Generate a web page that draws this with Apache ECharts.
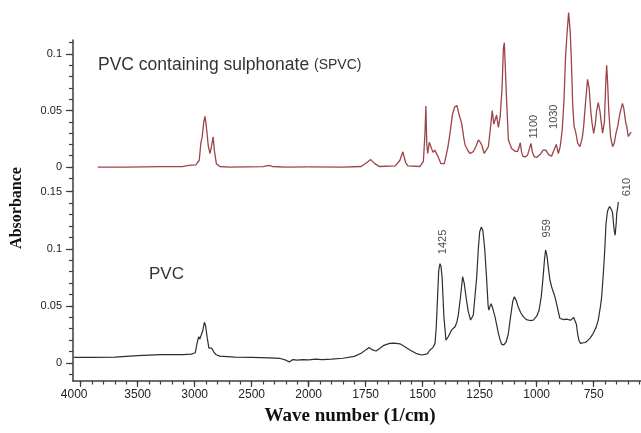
<!DOCTYPE html>
<html><head><meta charset="utf-8">
<script src="https://cdn.jsdelivr.net/npm/echarts@6/dist/echarts.min.js"></script>
<style>html,body{margin:0;padding:0;background:#fff}#c{width:641px;height:433px}</style>
</head><body><div id="c"></div>
<script>
// ---- data (wavenumber in 1/cm, absorbance) ----
const spvcWave = [3850,3600,3300,3100,3050,2990,2960,2945,2935,2920,2910,2900,2880,2865,2850,2838,2828,2810,2780,2700,2400,2350,2320,2200,2000,1850,1770,1745,1728,1710,1690,1620,1600,1587,1575,1565,1512,1497,1490,1486,1482,1478,1471,1463,1455,1447,1440,1432,1420,1405,1390,1380,1370,1360,1350,1340,1329,1320,1314,1300,1292,1278,1265,1256,1248,1241,1230,1224,1212,1202,1195,1188,1183,1176,1168,1160,1152,1146,1142,1138,1132,1124,1110,1095,1085,1078,1072,1066,1060,1051,1040,1033,1025,1019,1010,1000,985,972,960,948,935,927,914,905,897,888,880,874,868,860,853,848,842,836,829,820,810,800,794,785,777,770,763,757,750,743,737,730,723,717,711,703,697,693,689,684,676,667,660,652,645,635,624,618,610,605,598,593,586];
const spvcAbs = [0,0,0.0003,0.0005,0.0015,0.002,0.006,0.022,0.026,0.04,0.0448,0.038,0.018,0.012,0.02,0.0267,0.015,0.003,0.0005,0,0.0003,0.0015,0.0005,0,0.0001,0,0.0005,0.004,0.0066,0.003,0.0005,0.001,0.006,0.0135,0.004,0.001,0.0005,0.005,0.03,0.054,0.02,0.012,0.022,0.023,0.013,0.015,0.0152,0.009,0.003,0.003,0.017,0.03,0.046,0.053,0.0545,0.046,0.0386,0.026,0.0195,0.014,0.012,0.0136,0.019,0.024,0.022,0.0195,0.012,0.0106,0.018,0.036,0.05,0.038,0.037,0.046,0.035,0.045,0.07,0.105,0.11,0.09,0.059,0.024,0.0165,0.014,0.0136,0.017,0.0215,0.013,0.0095,0.009,0.0105,0.012,0.021,0.013,0.009,0.0085,0.011,0.015,0.015,0.011,0.0095,0.011,0.02,0.012,0.018,0.033,0.06,0.095,0.115,0.1366,0.12,0.095,0.055,0.036,0.031,0.021,0.018,0.026,0.036,0.059,0.0776,0.07,0.05,0.0386,0.0298,0.038,0.05,0.057,0.05,0.04,0.03,0.04,0.075,0.09,0.075,0.05,0.027,0.018,0.021,0.03,0.0357,0.0475,0.0563,0.052,0.04,0.0357,0.027,0.028,0.031];
const pvcWave = [4060,3900,3700,3500,3300,3100,3030,2995,2980,2965,2955,2945,2930,2915,2905,2890,2875,2862,2850,2835,2815,2780,2650,2500,2350,2250,2200,2170,2160,2140,2100,2050,2000,1970,1940,1900,1850,1800,1770,1750,1735,1720,1705,1690,1670,1645,1625,1600,1580,1556,1530,1505,1480,1468,1455,1446,1441,1436,1430,1428,1424,1420,1415,1407,1398,1388,1373,1358,1350,1344,1334,1325,1318,1308,1300,1290,1285,1278,1270,1263,1256,1250,1243,1236,1228,1220,1213,1210,1204,1200,1193,1183,1175,1168,1160,1154,1145,1135,1125,1115,1105,1098,1090,1081,1070,1059,1045,1030,1015,1000,990,980,972,966,961,955,948,942,935,930,920,910,903,898,890,880,870,861,850,838,832,826,820,815,808,800,790,781,765,752,740,730,720,715,710,705,700,696,690,686,680,676,671,667,663,660,656,654,651,649,645,642];
const pvcAbs = [0.005,0.005,0.0052,0.0065,0.0073,0.0074,0.0078,0.009,0.017,0.023,0.021,0.02,0.028,0.0357,0.033,0.022,0.013,0.0116,0.013,0.01,0.0075,0.006,0.0052,0.0049,0.0045,0.004,0.0025,0.001,0.0008,0.003,0.0025,0.003,0.0028,0.0035,0.003,0.0035,0.0042,0.0058,0.0085,0.0115,0.0136,0.0115,0.0105,0.0125,0.0155,0.0172,0.0175,0.0168,0.0145,0.0114,0.0085,0.007,0.008,0.0114,0.0135,0.0172,0.03,0.052,0.08,0.083,0.087,0.085,0.0756,0.0406,0.02,0.023,0.029,0.0318,0.036,0.042,0.058,0.0756,0.07,0.055,0.045,0.0376,0.0376,0.042,0.06,0.0756,0.1,0.115,0.119,0.116,0.1,0.075,0.05,0.0464,0.05,0.052,0.048,0.0406,0.033,0.026,0.02,0.0165,0.0158,0.018,0.025,0.04,0.054,0.058,0.055,0.049,0.044,0.0406,0.038,0.0372,0.0376,0.041,0.046,0.058,0.075,0.09,0.099,0.094,0.082,0.0727,0.067,0.064,0.058,0.0493,0.043,0.039,0.0376,0.038,0.0385,0.038,0.0376,0.04,0.0415,0.034,0.025,0.02,0.0172,0.0172,0.018,0.0187,0.022,0.026,0.031,0.0376,0.05,0.058,0.072,0.087,0.105,0.122,0.132,0.135,0.137,0.137,0.134,0.131,0.122,0.116,0.112,0.112,0.123,0.131,0.136,0.141];

// tick labels
const xTicksWide = [4000,3500,3000,2500,2000];
const xTicksNarrow = [1750,1500,1250,1000,750];
const yTicksTop = [0,0.05,0.1];
const yTicksBottom = [0,0.05,0.1,0.15];

// peak annotations
const peakText  = ['1100','1030','1425','959','610'];
const peakWave  = [1010,923,1410,956,605];
const peakAbs   = [0.0357,0.0445,0.106,0.118,0.154];
const peakPanel = ['top','top','bottom','bottom','bottom'];

// ---- layout ----
const AX = '#3c3c3c';
const tickFont = {fontFamily:'Liberation Sans', fontSize:11, color:'#222'};

const grids = [];
const xAxes = [];
const yAxes = [];
function addGrid(g, xa, ya){
  const i = grids.length;
  grids.push(Object.assign({containLabel:false}, g));
  xAxes.push(Object.assign({gridIndex:i, type:'value', show:false}, xa||{}));
  yAxes.push(Object.assign({gridIndex:i, type:'value', show:false}, ya||{}));
  return i;
}
const hiddenBits = {axisLine:{show:false}, splitLine:{show:false}};

// frame: y axis line from top to bottom, x axis line
addGrid({left:73, top:40, width:568, height:341},
  {show:true, min:0, max:1, axisLine:{show:true, onZero:false, lineStyle:{color:AX, width:1.5}}, axisTick:{show:false}, axisLabel:{show:false}, splitLine:{show:false}},
  {show:true, min:0, max:1, axisLine:{show:true, onZero:false, lineStyle:{color:AX, width:1.5}}, axisTick:{show:false}, axisLabel:{show:false}, splitLine:{show:false}});

// data grids
const topTL = addGrid({left:72.7, width:236, top:3.15, height:175.2}, {min:2000, max:4070, inverse:true}, {min:-0.01, max:0.145});
const topTR = addGrid({left:308.7, width:332.3, top:3.15, height:175.2}, {min:542.5, max:2000, inverse:true}, {min:-0.01, max:0.145});
const botBL = addGrid({left:72.7, width:236, top:180.3, height:201}, {min:2000, max:4070, inverse:true}, {min:-0.016, max:0.16});
const botBR = addGrid({left:308.7, width:332.3, top:180.3, height:201}, {min:542.5, max:2000, inverse:true}, {min:-0.016, max:0.16});

// y tick grids
function yTickAxis(min, max, interval, len, labels){
  return Object.assign({show:true, min:min, max:max, interval:interval,
    axisTick:{show:true, length:len, lineStyle:{color:AX, width:1.2}},
    axisLabel: labels ? Object.assign({show:true, margin:11, formatter:function(v){
      const r = Math.round(v*1000)/1000; return labels.indexOf(r)>=0 ? String(r) : '';}}, tickFont) : {show:false}
  }, hiddenBits);
}
addGrid({left:73, width:10, top:54, height:113}, {}, yTickAxis(0, 0.1, 0.05, 7, yTicksTop));
addGrid({left:73, width:10, top:42.7, height:135.6}, {}, yTickAxis(-0.01, 0.11, 0.01, 4, null));
addGrid({left:73, width:10, top:191.7, height:171.3}, {}, yTickAxis(0, 0.15, 0.05, 7, yTicksBottom));
addGrid({left:73, width:10, top:191.7, height:182.7}, {}, yTickAxis(-0.01, 0.15, 0.01, 4, null));

// x tick grids
function xTickAxis(min, max, interval, len, labels){
  return Object.assign({show:true, min:min, max:max, interval:interval, inverse:true,
    axisTick:{show:true, length:len, lineStyle:{color:AX, width:1.2}},
    axisLabel: labels ? {show:true, margin:8, fontFamily:'Liberation Sans', color:'#222', fontSize:12,
      rich:{edge:{fontFamily:'Liberation Sans', color:'#222', fontSize:12, padding:[0,13,0,0]}},
      formatter:function(v){
        const r = Math.round(v);
        if (labels.indexOf(r)<0) return '';
        return r===labels[0] && r===4000 ? '{edge|'+r+'}' : String(r);}} : {show:false}
  }, hiddenBits);
}
addGrid({left:80.7, width:228, top:300, height:81}, xTickAxis(2000, 4000, 500, 6, xTicksWide), {});
addGrid({left:80.7, width:228, top:300, height:81}, xTickAxis(2000, 4000, 100, 3.5, null), {});
addGrid({left:308.7, width:285, top:300, height:81}, xTickAxis(750, 2000, 250, 6, xTicksNarrow), {});
addGrid({left:308.7, width:330.6, top:300, height:81}, xTickAxis(550, 2000, 50, 3.5, null), {});

// ---- series ----
function pairs(w, a, test){
  const out = [];
  for (let i=0;i<w.length;i++) if (test(w[i])) out.push([w[i], a[i]]);
  return out;
}
function lineSeries(idx, data, color, width){
  return {type:'line', xAxisIndex:idx, yAxisIndex:idx, data:data, symbol:'none', showSymbol:false,
    lineStyle:{color:color, width:width}, silent:true, animation:false, z:3};
}
const SP = '#9c4448', PV = '#2e2e2e';
const series = [
  lineSeries(topTL, pairs(spvcWave, spvcAbs, w=>w>=2000), SP, 1.3),
  lineSeries(topTR, pairs(spvcWave, spvcAbs, w=>w<=2000), SP, 1.3),
  lineSeries(botBL, pairs(pvcWave, pvcAbs, w=>w>=2000), PV, 1.2),
  lineSeries(botBR, pairs(pvcWave, pvcAbs, w=>w<=2000), PV, 1.2)
];
function labelSeries(idx, panel){
  const data = [];
  for (let i=0;i<peakText.length;i++){
    if (peakPanel[i]!==panel) continue;
    data.push({value:[peakWave[i], peakAbs[i]], label:{formatter:peakText[i]}});
  }
  return {type:'scatter', xAxisIndex:idx, yAxisIndex:idx, symbolSize:0, data:data, silent:true, animation:false, z:5,
    label:{show:true, position:'inside', rotate:90, fontFamily:'Liberation Sans Narrow, Liberation Sans', fontSize:11, color:'#1a1a1a'}};
}
series.push(labelSeries(topTR, 'top'));
series.push(labelSeries(botBR, 'bottom'));

const chart = echarts.init(document.getElementById('c'), null, {renderer:'canvas'});
chart.setOption({
  backgroundColor:'#ffffff',
  animation:false,
  grid:grids, xAxis:xAxes, yAxis:yAxes, series:series,
  graphic:[
    {type:'text', left:98, top:56, style:{text:'PVC containing sulphonate', font:'17.5px "Liberation Sans"', fill:'#333'}},
    {type:'text', left:314, top:58, style:{text:'(SPVC)', font:'14px "Liberation Sans Narrow", "Liberation Sans"', fill:'#333'}},
    {type:'text', left:149, top:266, style:{text:'PVC', font:'17px "Liberation Sans"', fill:'#333'}},
    {type:'text', x:350, y:416, style:{text:'Wave number (1/cm)', font:'bold 19px "Liberation Serif"', fill:'#111', align:'center', verticalAlign:'middle'}},
    {type:'text', x:17, y:208, rotation:Math.PI/2, style:{text:'Absorbance', font:'bold 16px "Liberation Serif"', fill:'#111', align:'center', verticalAlign:'middle'}}
  ]
});
</script></body></html>
